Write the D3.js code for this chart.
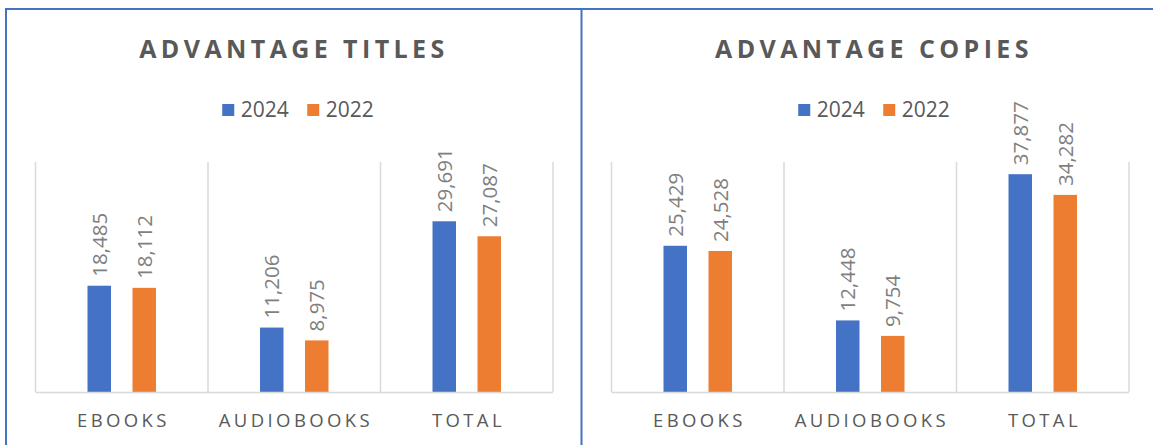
<!DOCTYPE html>
<html>
<head>
<meta charset="utf-8">
<script src="https://cdn.jsdelivr.net/npm/d3@7"></script>
<style>
  html, body { margin: 0; padding: 0; background: #fff; }
  svg { display: block; font-family: "Open Sans", "Liberation Sans", sans-serif; }
</style>
</head>
<body>
<svg id="chart" width="1153" height="445"></svg>
<script>
// ---- data ----
const categories = ["EBOOKS", "AUDIOBOOKS", "TOTAL"];
const series = ["2024", "2022"];
const titlesValues2024 = [18485, 11206, 29691];
const titlesValues2022 = [18112, 8975, 27087];
const copiesValues2024 = [25429, 12448, 37877];
const copiesValues2022 = [24528, 9754, 34282];
const chartTitles = ["ADVANTAGE TITLES", "ADVANTAGE COPIES"];
const yMax = 40000;

const colors = { "2024": "#4472C4", "2022": "#ED7D31" };
const textColor = "#595959";
const labelColor = "#7F7F7F";
const gridColor = "#D9D9D9";
const borderColor = "#4472C4";

const svg = d3.select("#chart");

// panel borders
const border = svg.append("g")
  .attr("fill", "none").attr("stroke", borderColor).attr("stroke-width", 2);
border.append("line").attr("x1", 5).attr("x2", 1153).attr("y1", 9).attr("y2", 9);
border.append("line").attr("x1", 6).attr("x2", 6).attr("y1", 8).attr("y2", 445);
border.append("line").attr("x1", 581.5).attr("x2", 581.5).attr("y1", 8).attr("y2", 445);

const panels = [
  { title: chartTitles[0], v24: titlesValues2024, v22: titlesValues2022, x0: 35.5, x1: 553, titleDx: -2.5 },
  { title: chartTitles[1], v24: copiesValues2024, v22: copiesValues2022, x0: 611.5, x1: 1129, titleDx: 1.5 }
];

const yTop = 162, yBase = 392;
const fmt = d3.format(",");

panels.forEach(p => {
  const g = svg.append("g");
  const cx = (p.x0 + p.x1) / 2;

  const x = d3.scaleBand().domain(categories).range([p.x0, p.x1]).padding(0);
  const bw = x.bandwidth();
  const xs = d3.scaleBand().domain(series)
    .range([bw / 2 - 34.25, bw / 2 + 34.25]).paddingInner(0.478).paddingOuter(0);
  const y = d3.scaleLinear().domain([0, yMax]).range([yBase, yTop]);

  // title
  g.append("text")
    .attr("x", cx + p.titleDx + 2.2).attr("y", 57.5)
    .attr("text-anchor", "middle")
    .attr("font-size", 25).attr("font-weight", 700)
    .attr("letter-spacing", "4.4px")
    .attr("fill", textColor)
    .text(p.title);

  // legend
  const lg = g.append("g").attr("transform", `translate(${cx + 4},0)`);
  const legendItems = [
    { key: series[0], dx: -76 },
    { key: series[1], dx: 9 }
  ];
  legendItems.forEach(it => {
    lg.append("rect").attr("x", it.dx).attr("y", 104).attr("width", 12).attr("height", 12)
      .attr("fill", colors[it.key]);
    lg.append("text").attr("x", it.dx + 18.5).attr("y", 117)
      .attr("font-size", 21).attr("fill", textColor).text(it.key);
  });

  // vertical gridlines (category separators)
  const sepX = categories.map(c => x(c)).concat([x(categories[categories.length - 1]) + bw]);
  g.append("g").selectAll("line").data(sepX).join("line")
    .attr("x1", d => d).attr("x2", d => d)
    .attr("y1", yTop).attr("y2", yBase)
    .attr("stroke", gridColor).attr("stroke-width", 1.5);

  // bars
  const rows = categories.map((c, i) => ({ cat: c, vals: [
    { s: series[0], v: p.v24[i] }, { s: series[1], v: p.v22[i] }
  ]}));
  const cg = g.append("g").selectAll("g").data(rows).join("g")
    .attr("transform", d => `translate(${x(d.cat)},0)`);
  cg.selectAll("rect").data(d => d.vals).join("rect")
    .attr("x", d => xs(d.s)).attr("width", xs.bandwidth())
    .attr("y", d => y(d.v)).attr("height", d => yBase - y(d.v))
    .attr("fill", d => colors[d.s]);
  cg.selectAll("text").data(d => d.vals).join("text")
    .attr("transform", d => `translate(${xs(d.s) + xs.bandwidth() / 2},${y(d.v) - 9}) rotate(-90)`)
    .attr("dy", "0.36em")
    .attr("font-size", 20.5).attr("fill", labelColor)
    .text(d => fmt(d.v));

  // baseline axis
  g.append("line").attr("x1", p.x0).attr("x2", p.x1).attr("y1", yBase + 0.5).attr("y2", yBase + 0.5)
    .attr("stroke", gridColor).attr("stroke-width", 1.5);

  // category labels
  g.append("g").selectAll("text").data(categories).join("text")
    .attr("x", d => x(d) + bw / 2 + 1.7).attr("y", 427)
    .attr("text-anchor", "middle")
    .attr("font-size", 18.5).attr("letter-spacing", "3.4px")
    .attr("fill", textColor)
    .text(d => d);
});
</script>
</body>
</html>
